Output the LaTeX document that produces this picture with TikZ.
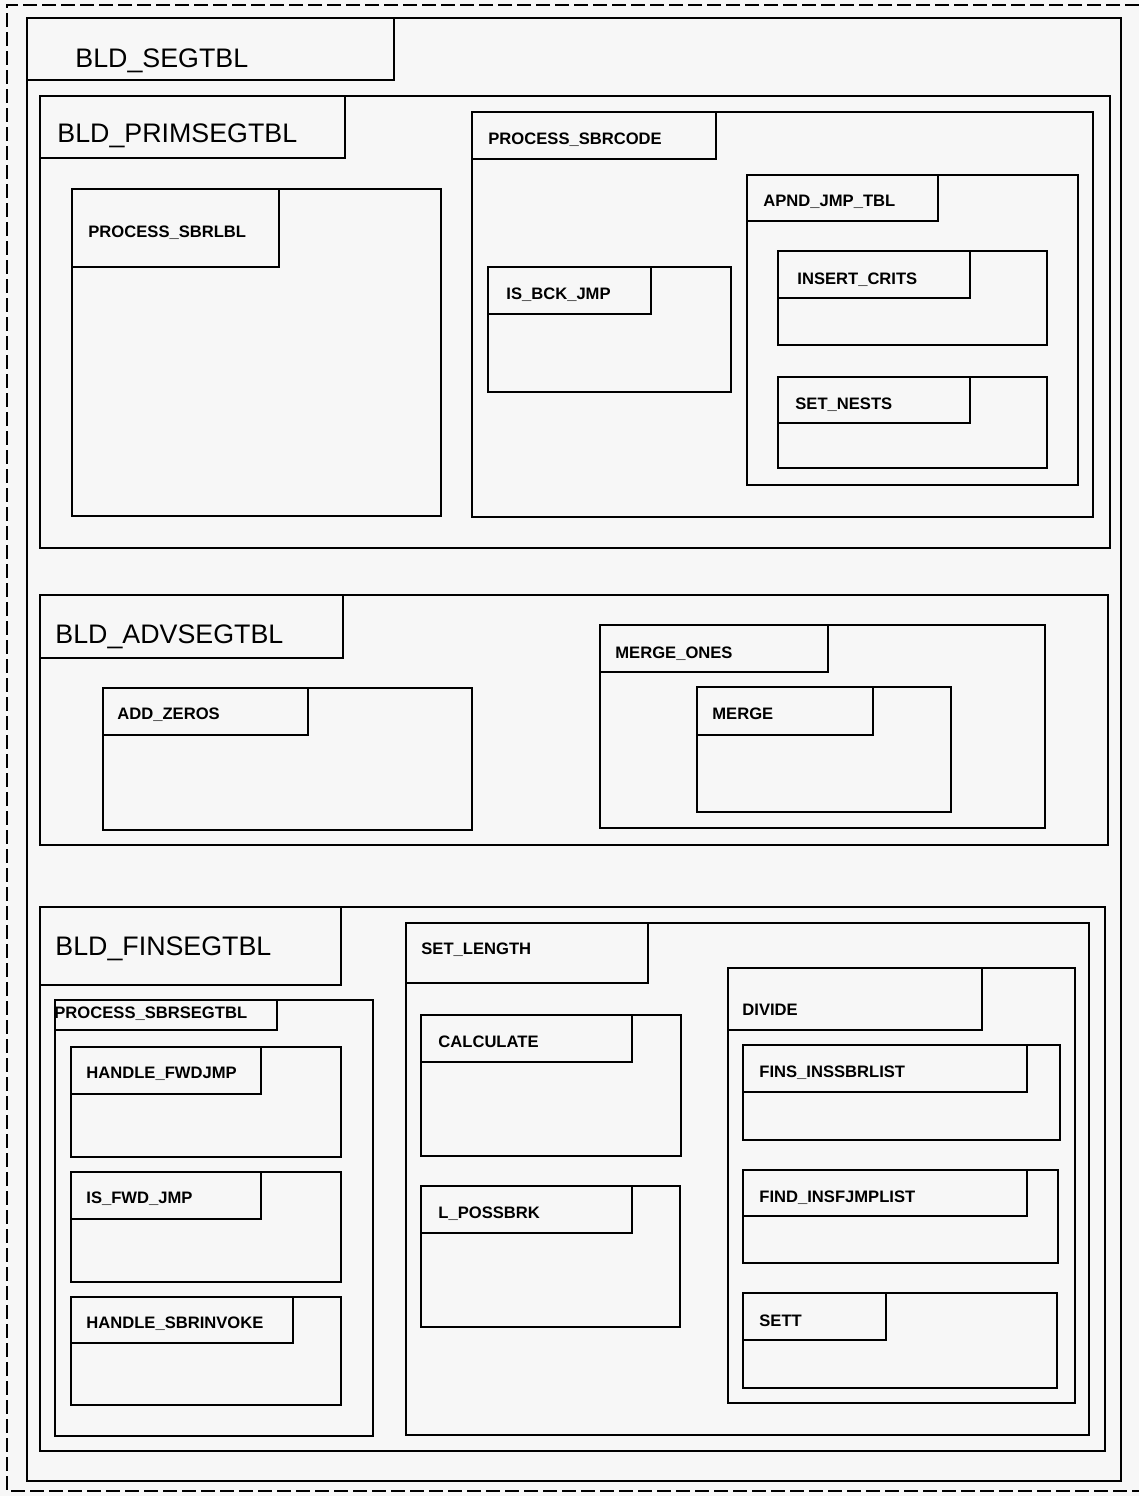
\documentclass[tikz,border=0pt]{standalone}
\usepackage{fontspec}
\newfontfamily\plotfont{Liberation Sans}
\tikzset{
  boxline/.style={draw=black, line width=1.45pt},
  biglbl/.style={inner sep=0pt, anchor=base west, font=\plotfont\fontsize{13.4}{15}\selectfont, text=black},
  smalllbl/.style={inner sep=0pt, anchor=base west, font=\plotfont\bfseries\fontsize{8.3}{10}\selectfont, text=black},
}
% #1 name, #2 x1, #3 y1, #4 x2, #5 y2, #6 label-box x2, #7 label-box y2
\newcommand{\modbox}[7]{%
  \coordinate (#1) at (#2,#3);
  \draw[boxline] (#1) rectangle (#4,#5);
  \draw[boxline] (#1) rectangle (#6,#7);
}
% #1 style, #2 name, #3 x, #4 baseline y, #5 text
\newcommand{\modtext}[5]{\node[#1] (#2-lbl) at (#3,#4) {#5};}
\begin{document}
\begin{tikzpicture}[x=0.5pt,y=-0.5pt]
\useasboundingbox (0,0) rectangle (1139,1496);
\fill[black!3] (0,0) rectangle (1139,1496);
% outer dashed frame
\coordinate (dtr) at (1139,5);
\coordinate (dtl) at (7,5);
\coordinate (dbl) at (7,1491);
\coordinate (dbr) at (1139,1491);
\draw[black, line width=1.3pt, dash pattern=on 7pt off 2.5pt] (dtr) -- (dtl) -- (dbl) -- (dbr);

% BLD_SEGTBL
\modbox{segtbl}{27}{18}{1121}{1481}{394}{80}
\modtext{biglbl}{segtbl}{75}{67}{BLD\_SEGTBL}

% BLD_PRIMSEGTBL
\modbox{prim}{40}{96}{1110}{548}{345}{158}
\modtext{biglbl}{prim}{57}{142}{BLD\_PRIMSEGTBL}
\modbox{sbrlbl}{72}{189}{441}{516}{279}{267}
\modtext{smalllbl}{sbrlbl}{88}{237}{PROCESS\_SBRLBL}
\modbox{sbrcode}{472}{112}{1093}{517}{716}{159}
\modtext{smalllbl}{sbrcode}{488}{144}{PROCESS\_SBRCODE}
\modbox{bckjmp}{488}{267}{731}{392}{651}{314}
\modtext{smalllbl}{bckjmp}{506}{299}{IS\_BCK\_JMP}
\modbox{apnd}{747}{175}{1078}{485}{938}{221}
\modtext{smalllbl}{apnd}{763}{206}{APND\_JMP\_TBL}
\modbox{crits}{778}{251}{1047}{345}{970}{298}
\modtext{smalllbl}{crits}{797}{284}{INSERT\_CRITS}
\modbox{nests}{778}{377}{1047}{468}{970}{423}
\modtext{smalllbl}{nests}{795}{409}{SET\_NESTS}

% BLD_ADVSEGTBL
\modbox{adv}{40}{595}{1108}{845}{343}{658}
\modtext{biglbl}{adv}{55}{643}{BLD\_ADVSEGTBL}
\modbox{zeros}{103}{688}{472}{830}{308}{735}
\modtext{smalllbl}{zeros}{117}{719}{ADD\_ZEROS}
\modbox{mones}{600}{625}{1045}{828}{828}{672}
\modtext{smalllbl}{mones}{615}{658}{MERGE\_ONES}
\modbox{merge}{697}{687}{951}{812}{873}{735}
\modtext{smalllbl}{merge}{712}{719}{MERGE}

% BLD_FINSEGTBL
\modbox{fin}{40}{907}{1105}{1451}{341}{985}
\modtext{biglbl}{fin}{55}{955}{BLD\_FINSEGTBL}
\modbox{sbrseg}{55}{1000}{373}{1436}{277}{1030}
\modtext{smalllbl}{sbrseg}{54}{1018}{PROCESS\_SBRSEGTBL}
\modbox{fwdjmp}{71}{1047}{341}{1157}{261}{1094}
\modtext{smalllbl}{fwdjmp}{86}{1078}{HANDLE\_FWDJMP}
\modbox{isfwd}{71}{1172}{341}{1282}{261}{1219}
\modtext{smalllbl}{isfwd}{86}{1203}{IS\_FWD\_JMP}
\modbox{sbrinv}{71}{1297}{341}{1405}{293}{1343}
\modtext{smalllbl}{sbrinv}{86}{1328}{HANDLE\_SBRINVOKE}

\modbox{setlen}{406}{923}{1089}{1435}{648}{983}
\modtext{smalllbl}{setlen}{421}{954}{SET\_LENGTH}
\modbox{calc}{421}{1015}{681}{1156}{632}{1062}
\modtext{smalllbl}{calc}{438}{1047}{CALCULATE}
\modbox{lposs}{421}{1186}{680}{1327}{632}{1233}
\modtext{smalllbl}{lposs}{438}{1218}{L\_POSSBRK}

\modbox{divide}{728}{968}{1075}{1403}{982}{1030}
\modtext{smalllbl}{divide}{742}{1015}{DIVIDE}
\modbox{fins}{743}{1045}{1060}{1140}{1027}{1092}
\modtext{smalllbl}{fins}{759}{1077}{FINS\_INSSBRLIST}
\modbox{find}{743}{1170}{1058}{1263}{1027}{1216}
\modtext{smalllbl}{find}{759}{1202}{FIND\_INSFJMPLIST}
\modbox{sett}{743}{1293}{1057}{1388}{886}{1340}
\modtext{smalllbl}{sett}{759}{1326}{SETT}
\end{tikzpicture}
\end{document}
